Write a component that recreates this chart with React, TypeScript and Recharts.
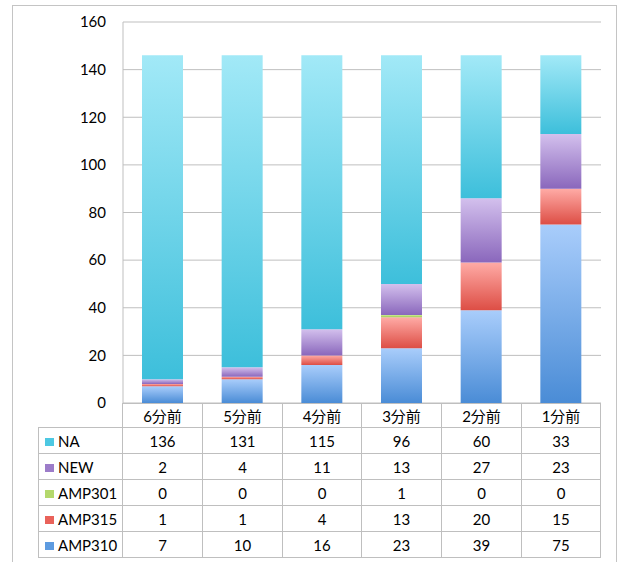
import { BarChart, Bar, XAxis, YAxis, CartesianGrid } from "recharts";

const categories = ["6分前", "5分前", "4分前", "3分前", "2分前", "1分前"];
const naValues = [136, 131, 115, 96, 60, 33];
const newValues = [2, 4, 11, 13, 27, 23];
const amp301Values = [0, 0, 0, 1, 0, 0];
const amp315Values = [1, 1, 4, 13, 20, 15];
const amp310Values = [7, 10, 16, 23, 39, 75];
const yTicks = [0, 20, 40, 60, 80, 100, 120, 140, 160];

// stack order bottom -> top
const series = [
  { key: "AMP310", values: amp310Values, top: "#a9cdfb", bottom: "#4a8cd6", swatch: "#5d9be0" },
  { key: "AMP315", values: amp315Values, top: "#ffaba6", bottom: "#dd4e45", swatch: "#e9625a" },
  { key: "AMP301", values: amp301Values, top: "#d3ee9a", bottom: "#9bc94f", swatch: "#b4d86c" },
  { key: "NEW", values: newValues, top: "#d3c0ed", bottom: "#8a67bc", swatch: "#9c7cc9" },
  { key: "NA", values: naValues, top: "#a2e9f7", bottom: "#3dbfdb", swatch: "#4dc8e2" },
];

const data = categories.map((c, i) => {
  const row: Record<string, string | number> = { name: c };
  series.forEach(s => { row[s.key] = s.values[i]; });
  return row;
});

const font = "Lato, 'Noto Sans CJK JP', sans-serif";
const line = "1px solid #bfbfbf";
const colW = [80, 80, 79, 80, 80, 79];

export default function App() {
  const tableRows = [...series].reverse();
  return <div style={{ position: "absolute", left: 0, top: 0, width: 620, height: 562, fontFamily: font }}>
    <div style={{ position: "absolute", left: 12, top: 5, width: 603, height: 570, border: "1px solid #c4c4c4" }} />
    <div style={{ position: "absolute", left: 0, top: 0 }}>
      <BarChart width={620} height={430} data={data} margin={{ top: 22, right: 19, left: 63, bottom: 27 }}>
        <defs>
          {series.map(s => <linearGradient key={s.key} id={`g-${s.key}`} x1="0" y1="0" x2="0" y2="1">
            <stop offset="0%" stopColor={s.top} /><stop offset="100%" stopColor={s.bottom} />
          </linearGradient>)}
        </defs>
        <CartesianGrid vertical={false} stroke="#bfbfbf" />
        <XAxis dataKey="name" hide height={0} />
        <YAxis width={60} domain={[0, 160]} ticks={yTicks} tickLine={false} tickSize={0} tickMargin={17}
          axisLine={{ stroke: "#bfbfbf" }} tick={{ fontSize: 15, fill: "#000", fontFamily: font }} interval={0} />
        {series.map(s => <Bar key={s.key} dataKey={s.key} stackId="a" barSize={41} fill={`url(#g-${s.key})`} isAnimationActive={false} />)}
      </BarChart>
    </div>
    <table style={{ position: "absolute", left: 38, top: 403, borderCollapse: "collapse", tableLayout: "fixed", fontSize: 15, fontFamily: font }}>
      <colgroup><col style={{ width: 84 }} />{colW.map((w, i) => <col key={i} style={{ width: w }} />)}</colgroup>
      <tbody>
        <tr style={{ height: 24 }}>
          <td style={{ border: "none", padding: 0 }} />
          {categories.map(c => <td key={c} style={{ border: line, textAlign: "center", padding: 0, background: "#fff" }}>{c}</td>)}
        </tr>
        {tableRows.map(s => <tr key={s.key} style={{ height: 26, background: "#fff" }}>
          <td style={{ border: line, padding: "0 0 0 6px", whiteSpace: "nowrap" }}>
            <span style={{ display: "inline-block", width: 9, height: 8, background: s.swatch, marginRight: 4, verticalAlign: "1px" }} />{s.key}
          </td>
          {s.values.map((v, i) => <td key={i} style={{ border: line, textAlign: "center", padding: 0 }}>{v}</td>)}
        </tr>)}
      </tbody>
    </table>
  </div>;
}
